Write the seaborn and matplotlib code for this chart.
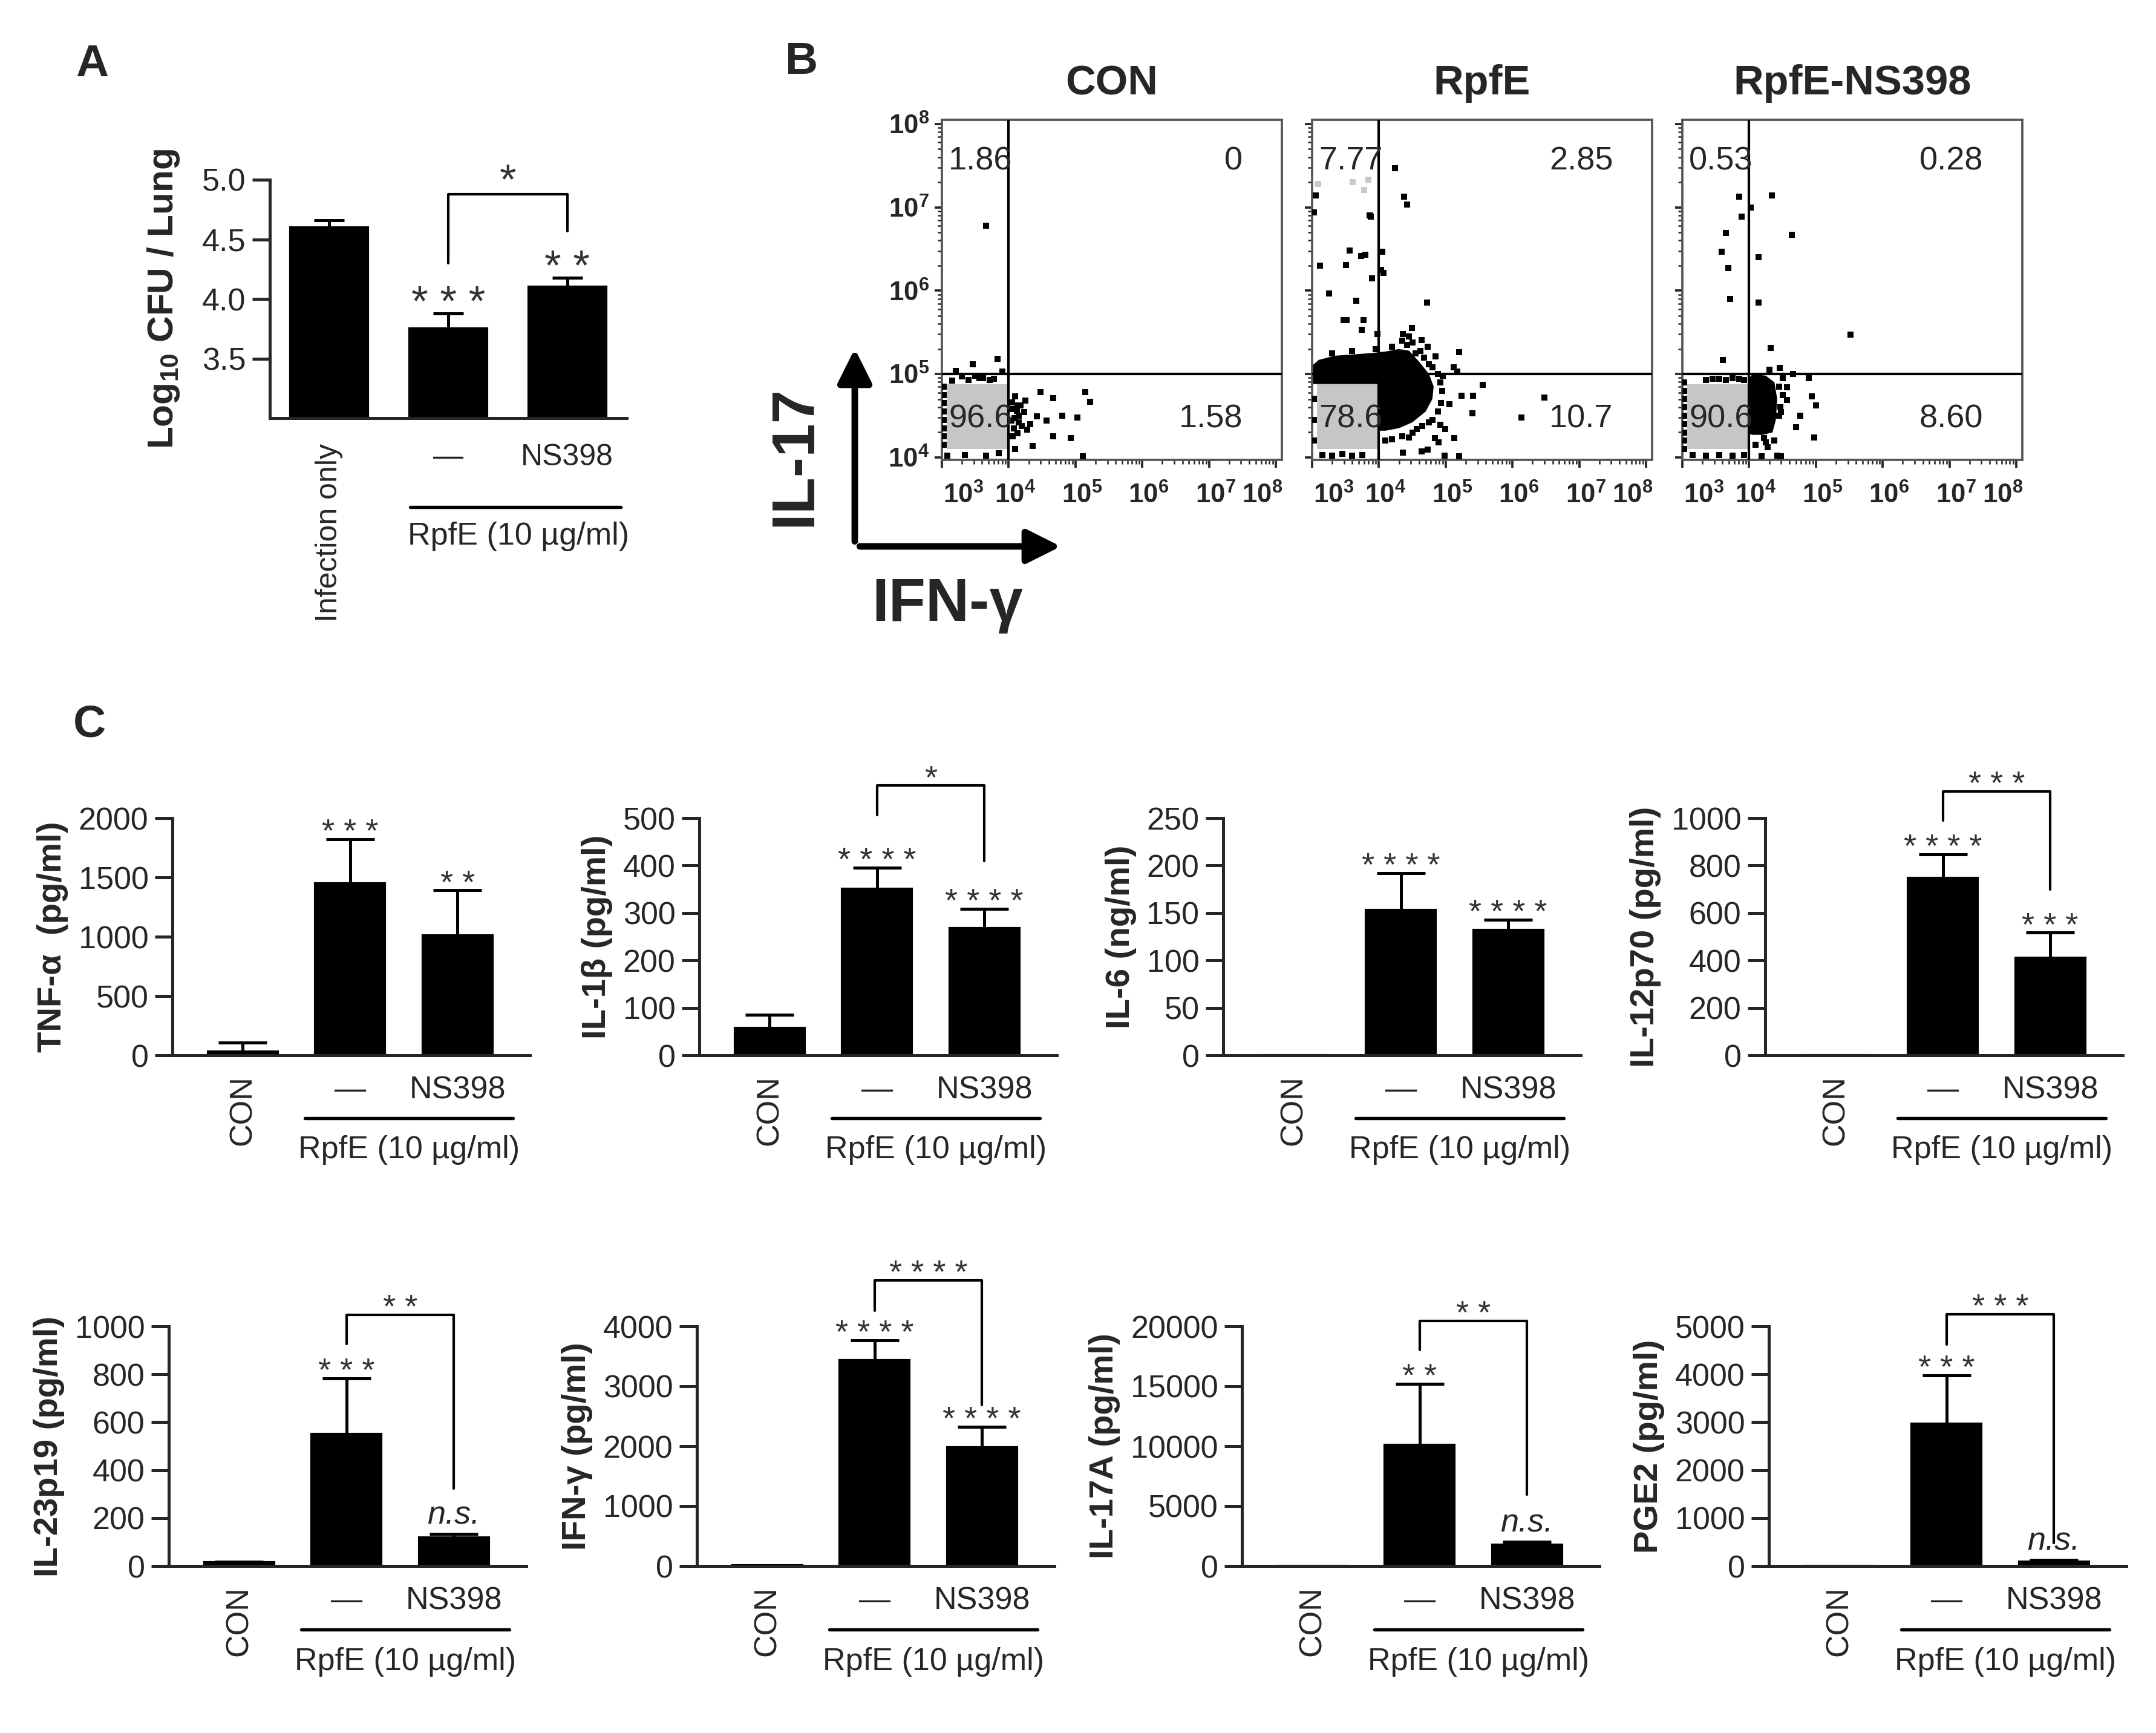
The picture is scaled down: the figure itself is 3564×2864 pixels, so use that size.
import numpy as np
import matplotlib
matplotlib.use('Agg')
import matplotlib.pyplot as plt
from matplotlib.patches import FancyArrowPatch, Rectangle
from matplotlib.ticker import LogLocator, NullFormatter
from matplotlib.transforms import ScaledTranslation
import seaborn as sns

sns.set_style('ticks')
plt.rcParams['font.family'] = ['Liberation Sans', 'DejaVu Sans']
plt.rcParams['mathtext.fontset'] = 'custom'
plt.rcParams['mathtext.rm'] = 'Liberation Sans'
plt.rcParams['mathtext.bf'] = 'Liberation Sans:bold'
plt.rcParams['mathtext.it'] = 'Liberation Sans:italic'

# ---------------- Panel A : lung CFU ----------------
cfu_groups = ['Infection only', '—', 'NS398']
cfu_mean = [4.60, 3.75, 4.10]
cfu_err = [0.06, 0.13, 0.08]
cfu_stars = ['', '* * *', '* *']
cfu_bracket = [4.88, 4.30, 4.57]   # top, left leg end, right leg end
cfu_bracket_label = '*'

# ---------------- Panel B : flow cytometry (log10 units) ----------------
flow_titles = ['CON', 'RpfE', 'RpfE-NS398']
quad_ul = ['1.86', '7.77', '0.53']
quad_ur = ['0', '2.85', '0.28']
quad_ll = ['96.6', '78.6', '90.6']
quad_lr = ['1.58', '10.7', '8.60']
gate_x = 4.0
gate_y = 5.0
bulk_x = [3.07, 3.98]
bulk_y = [4.10, 4.88]

con_x = [3.66, 3.46, 3.83, 3.21, 3.56, 3.72, 3.91, 4.10, 4.13, 4.23,
         4.32, 4.48, 4.67, 4.57, 4.80, 4.93, 5.03, 5.15, 5.22, 4.67,
         4.36, 5.11, 4.13, 4.04, 4.20, 4.42, 4.10, 3.08, 3.34, 3.66,
         3.85, 3.03, 3.03, 3.03, 3.03, 3.03, 3.03, 3.03, 3.03, 3.30,
         3.50, 4.06, 4.08, 4.15, 4.05, 4.09, 4.12, 4.18, 4.06, 4.25,
         4.15, 4.28, 3.40, 3.62, 3.78, 3.15]
con_y = [6.78, 5.12, 5.18, 5.04, 4.95, 4.93, 5.03, 4.73, 4.62, 4.54,
         4.40, 4.78, 4.71, 4.44, 4.50, 4.23, 4.48, 4.78, 4.67, 4.25,
         4.14, 4.01, 4.29, 4.44, 4.38, 4.49, 4.10, 4.02, 4.03, 4.02,
         4.05, 4.15, 4.25, 4.35, 4.45, 4.55, 4.65, 4.75, 4.85, 4.97,
         4.98, 4.58, 4.35, 4.50, 4.66, 4.47, 4.56, 4.62, 4.25, 4.68,
         4.42, 4.33, 4.93, 4.95, 4.94, 4.92]

rpfe_x = [4.24, 4.38, 4.42, 3.05, 3.03, 3.86, 3.88, 3.56, 3.73, 3.80,
          3.12, 3.51, 4.05, 4.03, 4.07, 3.90, 3.25, 3.66, 3.47, 3.52,
          3.77, 3.74, 4.72, 5.20, 3.98, 5.55, 5.41, 5.40, 6.48, 6.13,
          5.24, 5.06, 4.92, 4.99, 4.89, 4.45, 4.64, 4.36, 4.73, 4.98,
          5.20, 4.84, 5.13, 4.75, 4.57, 4.49, 4.36, 4.64, 4.73, 4.85,
          5.12, 4.96, 5.17, 4.35, 4.45, 4.42, 4.50, 4.55, 4.62, 4.68,
          4.75, 4.80, 4.88, 4.92, 4.95, 4.93, 4.88, 4.80, 4.65, 4.50,
          4.35, 4.20, 4.10, 3.95, 3.60, 3.30, 4.20, 3.15, 3.30, 3.45,
          3.60, 3.75, 3.03, 3.03, 3.03]
rpfe_y = [7.47, 7.13, 7.03, 7.14, 6.94, 6.90, 6.89, 6.48, 6.42, 6.43,
          6.30, 6.31, 6.47, 6.25, 6.21, 6.15, 5.97, 5.88, 5.65, 5.65,
          5.65, 5.53, 5.86, 5.26, 5.48, 4.87, 4.74, 4.53, 4.72, 4.48,
          4.74, 4.64, 4.39, 4.34, 4.18, 4.24, 4.07, 4.06, 4.09, 4.02,
          4.01, 4.23, 4.23, 4.42, 4.34, 5.55, 5.48, 5.41, 5.33, 5.21,
          5.08, 4.98, 5.03, 5.40, 5.45, 5.35, 5.38, 5.25, 5.28, 5.20,
          5.12, 5.08, 5.00, 4.90, 4.80, 4.65, 4.55, 4.45, 4.38, 4.30,
          4.25, 4.22, 4.20, 5.30, 5.28, 5.25, 5.33, 4.03, 4.02, 4.04,
          4.02, 4.03, 4.20, 4.45, 4.70]
rpfe_dense_x = [3.00, 3.10, 3.35, 3.87, 4.10, 4.30, 4.45, 4.60, 4.75, 4.82,
                4.80, 4.70, 4.50, 4.30, 4.10, 4.01, 4.01, 3.00]
rpfe_dense_y = [5.10, 5.17, 5.22, 5.25, 5.27, 5.30, 5.28, 5.15, 5.00, 4.85,
                4.70, 4.55, 4.42, 4.35, 4.32, 4.32, 4.88, 4.88]
rpfe_light_x = [3.09, 3.61, 3.84, 3.78]
rpfe_light_y = [7.28, 7.30, 7.33, 7.21]

ns_x = [3.85, 4.34, 4.02, 3.89, 3.65, 4.64, 3.59, 4.14, 3.69, 3.72,
        4.14, 5.52, 4.32, 3.61, 4.46, 4.66, 4.89, 4.94, 5.00, 4.77,
        4.70, 4.97, 4.57, 4.57, 4.48, 4.22, 4.28, 4.42, 4.19, 4.48,
        3.35, 3.55, 3.75, 3.92, 3.03, 3.03, 3.03, 3.03, 3.03, 3.03,
        3.03, 3.03, 3.03, 3.15, 3.35, 3.55, 3.75, 3.92, 4.45, 4.50,
        4.47, 4.45, 4.38, 4.25, 4.10, 4.50, 4.30, 3.45, 3.65, 3.85]
ns_y = [7.13, 7.14, 7.00, 6.89, 6.69, 6.67, 6.47, 6.40, 6.27, 5.90,
        5.86, 5.47, 5.31, 5.17, 5.07, 5.00, 4.95, 4.73, 4.62, 4.50,
        4.36, 4.24, 4.84, 4.69, 4.54, 4.23, 4.12, 4.02, 4.01, 4.01,
        4.93, 4.94, 4.95, 4.93, 4.10, 4.20, 4.30, 4.40, 4.50, 4.60,
        4.70, 4.80, 4.90, 4.03, 4.02, 4.03, 4.02, 4.03, 4.85, 4.75,
        4.60, 4.50, 4.20, 4.18, 4.15, 4.95, 5.05, 4.94, 4.93, 4.94]
ns_dense_x = [4.00, 4.05, 4.25, 4.38, 4.42, 4.40, 4.35, 4.20, 4.05, 4.00]
ns_dense_y = [4.95, 5.00, 4.98, 4.90, 4.70, 4.45, 4.30, 4.27, 4.27, 4.28]

# ---------------- Panel C : cytokines ----------------
cyto_groups = ['CON', '—', 'NS398']
cyto_labels = ['TNF-α  (pg/ml)', 'IL-1β (pg/ml)', 'IL-6 (ng/ml)', 'IL-12p70 (pg/ml)',
               'IL-23p19 (pg/ml)', 'IFN-γ (pg/ml)', 'IL-17A (pg/ml)', 'PGE2 (pg/ml)']
cyto_ymax = [2000, 500, 250, 1000, 1000, 4000, 20000, 5000]
cyto_step = [500, 100, 50, 200, 200, 1000, 5000, 1000]
cyto_mean = [[30, 1447, 1010], [57, 351, 268], [0, 153, 132], [0, 747, 410],
             [15, 550, 119], [10, 3433, 1978], [0, 10083, 1750], [0, 2965, 90]]
cyto_err = [[75, 373, 381], [28, 45, 41], [0, 39, 11], [0, 101, 107],
            [3, 232, 14], [5, 334, 344], [0, 5139, 278], [0, 1014, 35]]
cyto_stars = [['', '* * *', '* *'], ['', '* * * *', '* * * *'], ['', '* * * *', '* * * *'],
              ['', '* * * *', '* * *'], ['', '* * *', 'n.s.'], ['', '* * * *', '* * * *'],
              ['', '* *', 'n.s.'], ['', '* * *', 'n.s.']]
br_top = [None, 569, None, 1113, 1049, 4767, 20472, 5257]
br_left = [None, 507, None, 989, 928, 4267, 18055, 4618]
br_right = [None, 410, None, 699, 324, 2683, 5972, 486]
br_label = [None, '*', None, '* * *', '* *', '* * * *', '* *', '* * *']

W, H = 3564, 2864
fig = plt.figure(figsize=(W / 300, H / 300), dpi=300)


def box(left, top, width, height):
    return [left / W, 1 - (top + height) / H, width / W, height / H]


def bar_panel(ax, groups, mean, err, stars, star_size, capsize, star_off, ns_off):
    sns.barplot(x=groups, y=mean, color='black', edgecolor='black', width=0.65,
                errorbar=None, saturation=1, ax=ax)
    m = np.array(mean, dtype=float)
    e = np.array(err, dtype=float)
    xs = np.arange(len(m))
    keep = m > 0
    ax.errorbar(xs[keep], m[keep], yerr=[np.zeros(keep.sum()), e[keep]], fmt='none',
                ecolor='black', elinewidth=1.2, capsize=capsize, capthick=1.2, clip_on=False)
    for i, lab in enumerate(stars):
        if not lab:
            continue
        if lab == 'n.s.':
            ax.annotate(lab, (i, m[i] + e[i]), xytext=(0, ns_off), textcoords='offset points',
                        ha='center', va='baseline', fontsize=13, style='italic',
                        annotation_clip=False)
        else:
            ax.annotate(lab, (i, m[i] + e[i]), xytext=(0, star_off), textcoords='offset points',
                        ha='center', va='baseline', fontsize=star_size, color='#333333',
                        annotation_clip=False)
    sns.despine(ax=ax)
    for sp in ['left', 'bottom']:
        ax.spines[sp].set_linewidth(1.2)
    ax.tick_params(axis='x', length=0)
    ax.tick_params(axis='y', length=7, width=1.2, direction='out', pad=2.5)
    ax.set_xlabel('')


def bracket(ax, top, left, right, label, star_size, star_off):
    ax.plot([1, 1, 2, 2], [left, top, top, right], color='black', lw=1.0, clip_on=False)
    ax.annotate(label, (1.5, top), xytext=(0, star_off), textcoords='offset points',
                ha='center', va='baseline', fontsize=star_size, color='#333333',
                annotation_clip=False)


def group_line(ax, x0, x1, xt, y_line, y_text, size):
    tr = ax.get_xaxis_transform()
    ax.plot([x0, x1], [y_line, y_line], transform=tr, color='black', lw=1.3, clip_on=False)
    ax.text(xt, y_text, 'RpfE (10 µg/ml)', transform=tr, ha='center', va='center', fontsize=size)


# ---- Panel A ----
axA = fig.add_axes(box(446, 297, 590, 394))
bar_panel(axA, cfu_groups, cfu_mean, cfu_err, cfu_stars, 17, 6, -1, 4)
axA.set_xlim(-0.5, 2.5)
axA.set_ylim(3.0, 5.0)
axA.set_yticks([3.5, 4.0, 4.5, 5.0])
axA.set_yticklabels(['3.5', '4.0', '4.5', '5.0'], fontsize=12.5)
axA.tick_params(axis='x', pad=10, labelsize=12)
axA.get_xticklabels()[0].set_rotation(90)
axA.set_ylabel(r'Log$_{\mathbf{10}}$ CFU / Lung', fontsize=14.5, fontweight='bold', labelpad=8)
bracket(axA, cfu_bracket[0], cfu_bracket[1], cfu_bracket[2], cfu_bracket_label, 17, 0)
group_line(axA, 0.68, 2.45, 1.59, -0.373, -0.497, 12.5)

# ---- Panel B ----
flow_events = [(con_x, con_y, None, None), (rpfe_x, rpfe_y, rpfe_dense_x, rpfe_dense_y),
               (ns_x, ns_y, ns_dense_x, ns_dense_y)]
flow_lefts = [1557, 2169, 2781]
label_shift = [8.5, 2.5, 2.5, 2.5, 2.5, -5.5]
for k in range(3):
    ax = fig.add_axes(box(flow_lefts[k], 198, 562, 562))
    ex, ey, dx, dy = flow_events[k]
    ax.add_patch(Rectangle((10 ** bulk_x[0], 10 ** bulk_y[0]),
                           10 ** bulk_x[1] - 10 ** bulk_x[0], 10 ** bulk_y[1] - 10 ** bulk_y[0],
                           facecolor='#c6c6c6', edgecolor='none', zorder=1))
    if dx is not None:
        ax.fill(10 ** np.array(dx), 10 ** np.array(dy), color='black', lw=0, zorder=2)
    if k == 1:
        sns.scatterplot(x=10 ** np.array(rpfe_light_x), y=10 ** np.array(rpfe_light_y),
                        marker='s', s=6, color='#c8c8c8', linewidth=0, ax=ax, zorder=2)
    sns.scatterplot(x=10 ** np.array(ex), y=10 ** np.array(ey), marker='s', s=6,
                    color='black', linewidth=0, ax=ax, zorder=3)
    ax.set_xscale('log')
    ax.set_yscale('log')
    ax.set_xlim(10 ** 3, 10 ** 8.09)
    ax.set_ylim(10 ** 3.97, 10 ** 8.05)
    ax.axvline(10 ** gate_x, color='black', lw=1.0, zorder=4)
    ax.axhline(10 ** gate_y, color='black', lw=1.0, zorder=4)
    ax.set_xticks([10.0 ** p for p in range(3, 9)])
    ax.set_xticklabels([r'$\mathbf{10^{%d}}$' % p for p in range(3, 9)], fontsize=10.5)
    ax.set_yticks([10.0 ** p for p in range(4, 9)])
    if k == 0:
        ax.set_yticklabels([r'$\mathbf{10^{%d}}$' % p for p in range(4, 9)], fontsize=10.5)
    else:
        ax.set_yticklabels([])
    for axis in (ax.xaxis, ax.yaxis):
        axis.set_minor_locator(LogLocator(base=10, subs=np.arange(2, 10), numticks=30))
        axis.set_minor_formatter(NullFormatter())
    ax.tick_params(which='major', length=3, width=0.9, direction='out')
    ax.tick_params(axis='x', which='major', pad=6)
    ax.tick_params(axis='y', which='major', pad=2)
    ax.tick_params(which='minor', length=1.6, width=0.6, direction='out')
    for lab, dxp in zip(ax.get_xticklabels(), label_shift):
        lab.set_transform(lab.get_transform() + ScaledTranslation(dxp / 72, 0, fig.dpi_scale_trans))
    for sp in ax.spines.values():
        sp.set_visible(True)
        sp.set_color('#555555')
        sp.set_linewidth(0.9)
    ax.set_xlabel('')
    ax.set_ylabel('')
    ax.set_title(flow_titles[k], fontsize=16.5, fontweight='bold', pad=10)
    ax.text(0.02, 0.879, quad_ul[k], transform=ax.transAxes, ha='left', va='center', fontsize=13, zorder=5)
    ax.text(0.885, 0.879, quad_ur[k], transform=ax.transAxes, ha='right', va='center', fontsize=13, zorder=5)
    ax.text(0.02, 0.12, quad_ll[k], transform=ax.transAxes, ha='left', va='center', fontsize=13, zorder=5)
    ax.text(0.885, 0.12, quad_lr[k], transform=ax.transAxes, ha='right', va='center', fontsize=13, zorder=5)

# axis arrows for panel B
origin = (1413 / W, 1 - 903 / H)
for end in [(1413 / W, 1 - 568 / H), (1762 / W, 1 - 903 / H)]:
    fig.add_artist(FancyArrowPatch(origin, end, transform=fig.transFigure,
                                   arrowstyle='-|>,head_length=0.6,head_width=0.3',
                                   mutation_scale=19, lw=2.6, color='black'))
fig.text(1314 / W, 1 - 753 / H, 'IL-17', rotation=90, ha='center', va='center',
         fontsize=24, fontweight='bold')
fig.text(1566 / W, 1 - 1000 / H, 'IFN-γ', ha='center', va='center',
         fontsize=24, fontweight='bold')

# ---- Panel C ----
row_lefts = [285, 1156, 2022, 2918, 279, 1152, 2053, 2924]
row_tops = [1352] * 4 + [2192] * 4
row_heights = [392] * 4 + [396] * 4
for k in range(8):
    ax = fig.add_axes(box(row_lefts[k], row_tops[k], 591, row_heights[k]))
    bar_panel(ax, cyto_groups, cyto_mean[k], cyto_err[k], cyto_stars[k], 13, 9.5, -1, 4)
    ax.set_xlim(-0.657, 2.676)
    ax.set_ylim(0, cyto_ymax[k])
    ticks = np.arange(0, cyto_ymax[k] + 1, cyto_step[k])
    ax.set_yticks(ticks)
    ax.set_yticklabels([str(int(t)) for t in ticks], fontsize=12.5)
    ax.tick_params(axis='x', pad=8, labelsize=12.5)
    ax.get_xticklabels()[0].set_rotation(90)
    ax.set_ylabel(cyto_labels[k], fontsize=13.5, fontweight='bold', labelpad=4)
    if br_top[k] is not None:
        bracket(ax, br_top[k], br_left[k], br_right[k], br_label[k], 13, -1)
    group_line(ax, 0.58, 2.52, 1.55, -0.265, -0.40, 12.5)

# panel letters
fig.text(152 / W, 1 - 107 / H, 'A', fontsize=18, fontweight='bold', ha='center', va='center')
fig.text(1325 / W, 1 - 102 / H, 'B', fontsize=18, fontweight='bold', ha='center', va='center')
fig.text(148 / W, 1 - 1198 / H, 'C', fontsize=18, fontweight='bold', ha='center', va='center')

fig.savefig('out.png', dpi=300)
